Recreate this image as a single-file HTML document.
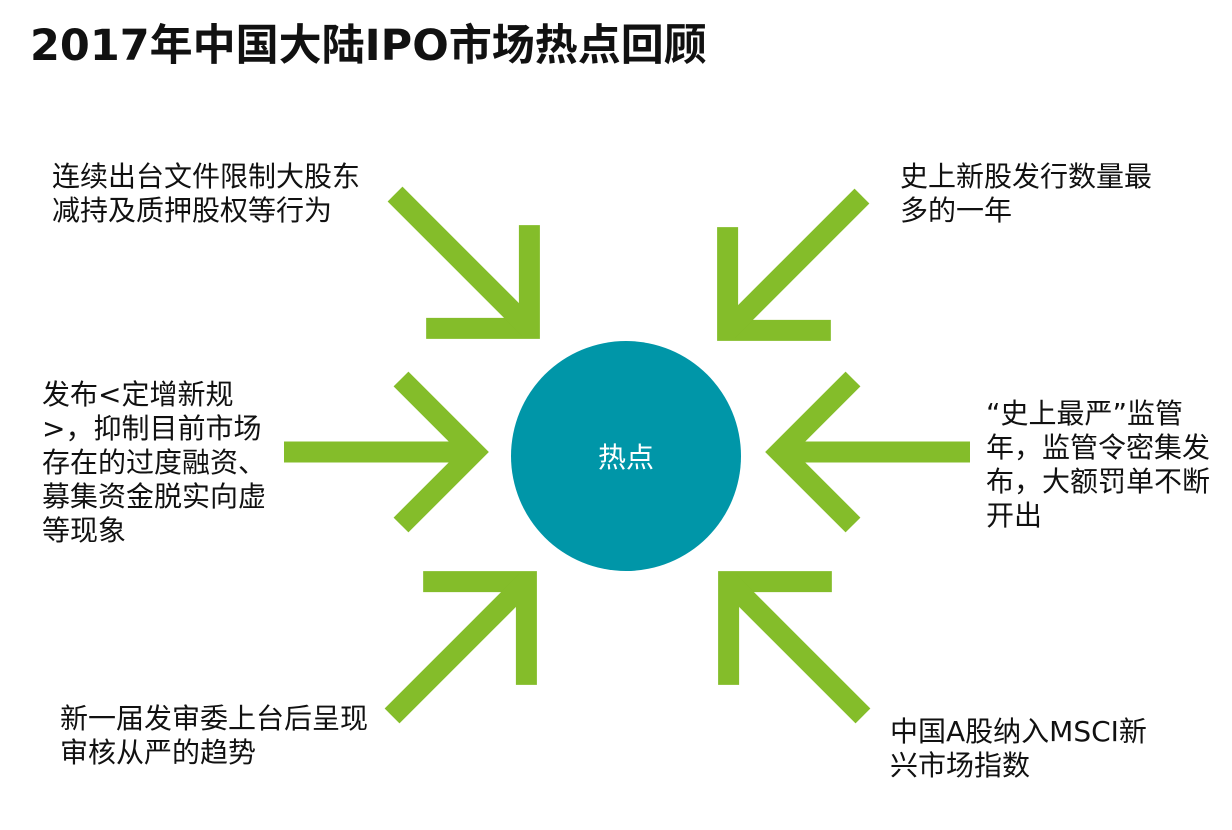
<!DOCTYPE html>
<html><head><meta charset="utf-8"><style>
body{margin:0;width:1232px;height:830px;background:#fff;position:relative;overflow:hidden;font-family:"DejaVu Sans","Noto Sans CJK SC",sans-serif;color:#111}
.t{position:absolute;font-size:28px;line-height:34px;white-space:nowrap}
h1{position:absolute;left:30px;top:20px;margin:0;font-size:43px;font-weight:bold;line-height:52px;font-family:"DejaVu Sans","Noto Sans CJK SC",sans-serif}
</style></head><body>
<h1>2017年中国大陆IPO市场热点回顾</h1>
<svg width="1232" height="830" style="position:absolute;left:0;top:0">
<defs><g id="a" fill="none" stroke="#84BD2A" stroke-width="21" stroke-linejoin="miter" stroke-miterlimit="10">
<polyline points="-88,-73 -15,0 -88,73"/><line x1="-205" y1="0" x2="-15" y2="0"/></g></defs>
<use href="#a" transform="translate(540,339) rotate(45)"/>
<use href="#a" transform="translate(717,341) rotate(135)"/>
<use href="#a" transform="translate(489,452)"/>
<use href="#a" transform="translate(765,452) rotate(180)"/>
<use href="#a" transform="translate(537,571) rotate(-45)"/>
<use href="#a" transform="translate(718,571) rotate(-135)"/>
<circle cx="626" cy="456" r="115" fill="#0096A8"/>
<text x="626" y="467" font-size="28" fill="#fff" text-anchor="middle" font-family="DejaVu Sans,Noto Sans CJK SC,sans-serif">热点</text>
</svg>
<div class="t" style="left:52px;top:160px">连续出台文件限制大股东<br>减持及质押股权等行为</div>
<div class="t" style="left:900px;top:160px">史上新股发行数量最<br>多的一年</div>
<div class="t" style="left:42px;top:378px">发布&lt;定增新规<br>&gt;，抑制目前市场<br>存在的过度融资、<br>募集资金脱实向虚<br>等现象</div>
<div class="t" style="left:986px;top:397px">“史上最严”监管<br>年，监管令密集发<br>布，大额罚单不断<br>开出</div>
<div class="t" style="left:60px;top:702px">新一届发审委上台后呈现<br>审核从严的趋势</div>
<div class="t" style="left:890px;top:715px">中国A股纳入MSCI新<br>兴市场指数</div>
</body></html>
